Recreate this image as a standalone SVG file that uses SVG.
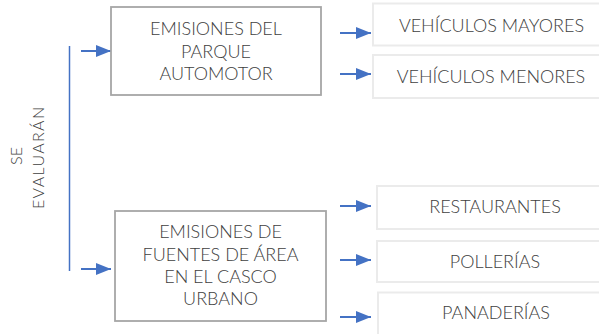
<svg xmlns="http://www.w3.org/2000/svg" width="599" height="334" viewBox="0 0 599 334">
<style>
.main{fill:#fff;stroke:#a6a6a6;stroke-width:1.8}
.sub{fill:#fff;stroke:#ebebeb;stroke-width:2}
.t{font-family:Lato,"Liberation Sans",sans-serif;font-weight:300;font-size:18px;fill:#404040;text-anchor:middle}
.v{font-family:Lato,"Liberation Sans",sans-serif;font-weight:300;font-size:16px;fill:#404040;text-anchor:middle}
.arr{stroke:#4472c4;stroke-width:2;fill:none;marker-end:url(#ah)}
</style>
<defs>
<marker id="ah" markerUnits="userSpaceOnUse" markerWidth="16" markerHeight="13" refX="15" refY="6" orient="auto">
<path d="M0,0 L15,6 L0,12 z" fill="#4472c4"/>
</marker>
</defs>
<rect width="599" height="334" fill="#fff"/>
<g id="label">
<text class="v" transform="translate(22,156) rotate(-90)">SE</text>
<text class="v" transform="translate(43.5,158) rotate(-90)" textLength="102" lengthAdjust="spacing">EVALUARÁN</text>
</g>
<g id="connectors">
<line x1="69.5" y1="46" x2="69.5" y2="271" stroke="#4472c4" stroke-width="1.5"/>
<line class="arr" x1="81" y1="51" x2="111" y2="51"/>
<line class="arr" x1="81" y1="269" x2="111" y2="269"/>
<line class="arr" x1="340" y1="33" x2="371" y2="33"/>
<line class="arr" x1="340" y1="74" x2="371" y2="74"/>
<line class="arr" x1="340" y1="206" x2="371" y2="206"/>
<line class="arr" x1="340" y1="260" x2="371" y2="260"/>
<line class="arr" x1="340" y1="317" x2="371" y2="317"/>
</g>
<g id="n-parque">
<rect class="main" x="111" y="7" width="210" height="88"/>
<text class="t" x="216" y="35">EMISIONES DEL</text>
<text class="t" x="216" y="57.5">PARQUE</text>
<text class="t" x="216" y="80">AUTOMOTOR</text>
</g>
<g id="n-area">
<rect class="main" x="115" y="211" width="211" height="110"/>
<text class="t" x="220.5" y="238">EMISIONES DE</text>
<text class="t" x="220.5" y="261">FUENTES DE ÁREA</text>
<text class="t" x="220.5" y="283">EN EL CASCO</text>
<text class="t" x="220.5" y="305">URBANO</text>
</g>
<g id="n-mayores">
<rect class="sub" x="373" y="3.5" width="240" height="42"/>
<text class="t" x="491.5" y="31.5">VEHÍCULOS MAYORES</text>
</g>
<g id="n-menores">
<rect class="sub" x="373" y="55" width="240" height="43"/>
<text class="t" x="491" y="83">VEHÍCULOS MENORES</text>
</g>
<g id="n-restaurantes">
<rect class="sub" x="377" y="186" width="240" height="43"/>
<text class="t" x="495" y="213">RESTAURANTES</text>
</g>
<g id="n-pollerias">
<rect class="sub" x="377" y="241" width="240" height="41"/>
<text class="t" x="495" y="268">POLLERÍAS</text>
</g>
<g id="n-panaderias">
<rect class="sub" x="378" y="292.5" width="240" height="50"/>
<text class="t" x="496" y="319">PANADERÍAS</text>
</g>
</svg>
